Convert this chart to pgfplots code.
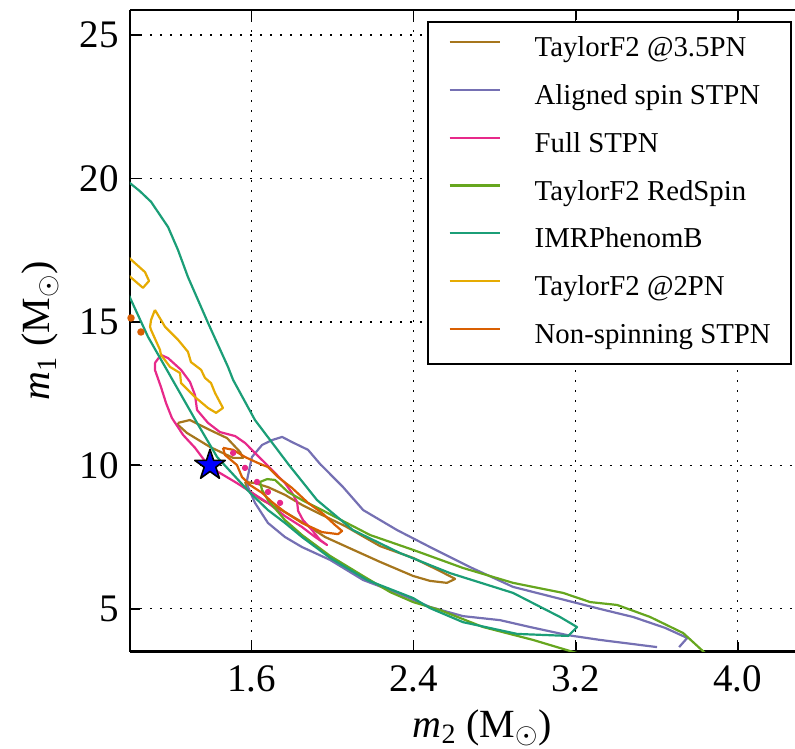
\documentclass[border=0pt]{standalone}
\usepackage{fontspec}
\setmainfont{Liberation Serif}
\usepackage{pgfplots}
\pgfplotsset{compat=1.18}
\definecolor{cBrown}{HTML}{A6761D}
\definecolor{cPurple}{HTML}{7570B3}
\definecolor{cPink}{HTML}{E7298A}
\definecolor{cGreen}{HTML}{66A61E}
\definecolor{cTeal}{HTML}{1B9E77}
\definecolor{cYellow}{HTML}{E6AB02}
\definecolor{cOrange}{HTML}{D95F02}
\pgfdeclareplotmark{fstar}{%
  \pgfpathmoveto{\pgfpointpolar{90}{\pgfplotmarksize}}%
  \pgfpathlineto{\pgfpointpolar{126}{0.382\pgfplotmarksize}}%
  \pgfpathlineto{\pgfpointpolar{162}{\pgfplotmarksize}}%
  \pgfpathlineto{\pgfpointpolar{198}{0.382\pgfplotmarksize}}%
  \pgfpathlineto{\pgfpointpolar{234}{\pgfplotmarksize}}%
  \pgfpathlineto{\pgfpointpolar{270}{0.382\pgfplotmarksize}}%
  \pgfpathlineto{\pgfpointpolar{306}{\pgfplotmarksize}}%
  \pgfpathlineto{\pgfpointpolar{342}{0.382\pgfplotmarksize}}%
  \pgfpathlineto{\pgfpointpolar{18}{\pgfplotmarksize}}%
  \pgfpathlineto{\pgfpointpolar{54}{0.382\pgfplotmarksize}}%
  \pgfpathclose
  \pgfusepathqfillstroke
}
\begin{document}
\begin{tikzpicture}
\begin{axis}[
  scale only axis, width=332.5pt, height=320.85pt,
  xmin=1.0, xmax=4.283, ymin=3.5, ymax=25.88,
  axis x line*=box, axis y line*=left,
  axis line style={line width=1.2pt, black},
  xtick={1.6,2.4,3.2,4.0}, xticklabels={1.6,2.4,3.2,4.0},
  ytick={5,10,15,20,25},
  tick align=inside, major tick length=5pt,
  tick style={line width=0.9pt, black},
  grid=major, grid style={black, line width=0.8pt, dash pattern=on 1pt off 4pt},
  /pgf/number format/assume math mode=true,
  tick label style={font=\fontsize{19.5}{22}\selectfont},
  xticklabel style={anchor=north, inner sep=0pt, yshift=-6.6pt},
  yticklabel style={anchor=east, inner sep=0pt, xshift=-5.5pt},
  label style={font=\fontsize{20}{24}\selectfont},
  xlabel={$\mathit{m}_{\mathrm{2}}$\ (M$_{\odot}$)},
  ylabel={$\mathit{m}_{\mathrm{1}}$\ (M$_{\odot}$)},
  xlabel style={at={([yshift=-43pt]axis description cs:0.53,0)}, anchor=base},
  ylabel style={at={([xshift=-40pt]axis description cs:0,0.5)}, anchor=base},
  legend style={at={(axis description cs:1,1)}, anchor=north east,
    xshift=-1.65pt, yshift=-5.35pt, draw=black, line width=1pt, fill=white,
    font=\fontsize{14.4}{17}\selectfont, inner xsep=10pt, inner ysep=7.5pt,
    row sep=10.9pt, nodes={inner sep=0pt, text height=10pt, text depth=3pt}},
  legend cell align=left,
  legend image code/.code={\draw[#1, line width=1.1pt] (0pt,3.8pt) -- (25pt,3.8pt); \path (42pt,3.8pt);},
  every axis plot/.append style={line width=1.1pt, line join=round},
]
% TaylorF2 @3.5PN
\addplot[cBrown] coordinates {(1.568,9.42) (1.617,9.38) (1.681,9.24) (1.765,8.97) (1.849,8.62) (1.948,8.27) (2.062,7.88) (2.235,7.18) (2.398,6.77) (2.531,6.31) (2.605,6.04) (2.565,5.90) (2.481,5.97) (2.398,6.14) (2.235,6.63) (2.072,7.15) (1.963,7.50) (1.849,8.02) (1.765,8.37) (1.652,8.79) (1.583,9.14) (1.568,9.42)};
\addlegendentry{TaylorF2 @3.5PN}
\addplot[cBrown, forget plot] coordinates {(1.237,11.48) (1.296,11.58) (1.395,11.23) (1.479,10.95) (1.543,10.47) (1.558,10.26) (1.509,10.26) (1.395,10.64) (1.281,11.13) (1.237,11.41) (1.237,11.48)};
% Aligned spin STPN
\addplot[cPurple] coordinates {(3.602,3.66) (3.321,3.91) (3.158,4.08) (2.975,4.36) (2.827,4.60) (2.644,4.74) (2.481,5.06) (2.319,5.55) (2.151,6.00) (1.988,6.70) (1.849,7.15) (1.765,7.50) (1.681,7.99) (1.617,8.69) (1.583,9.24) (1.578,9.49) (1.602,10.29) (1.652,10.71) (1.701,10.88) (1.751,10.99) (1.800,10.81) (1.879,10.54) (1.938,10.05) (2.052,9.24) (2.151,8.44) (2.319,7.74) (2.481,7.15) (2.679,6.45) (2.891,5.76) (3.148,5.30) (3.321,4.99) (3.484,4.71) (3.642,4.33) (3.751,3.98) (3.711,3.66)};
\addlegendentry{Aligned spin STPN}
% Full STPN
\addplot[cPink] coordinates {(1.123,13.57) (1.153,13.85) (1.188,13.74) (1.252,13.33) (1.296,12.91) (1.321,12.45) (1.331,11.93) (1.385,11.48) (1.444,11.16) (1.519,11.02) (1.568,10.78) (1.617,10.43) (1.667,10.08) (1.716,9.73) (1.765,9.38) (1.800,9.04) (1.825,8.72) (1.830,8.41) (1.854,8.09) (1.899,7.74) (1.938,7.40) (1.973,7.22) (1.914,7.50) (1.849,7.85) (1.765,8.23) (1.681,8.69) (1.602,9.04) (1.528,9.38) (1.435,9.77) (1.370,10.15) (1.321,10.61) (1.262,11.06) (1.207,11.65) (1.178,12.17) (1.153,12.73) (1.123,13.33) (1.123,13.57)};
\addlegendentry{Full STPN}
\addplot[only marks, mark=*, mark size=1pt, color=cPink, forget plot] coordinates {(1.509,10.43) (1.568,9.91) (1.627,9.42) (1.681,9.07) (1.741,8.69)};
% TaylorF2 RedSpin
\addplot[cGreen] coordinates {(3.207,3.45) (2.990,3.91) (2.743,4.36) (2.531,4.95) (2.398,5.23) (2.284,5.58) (2.151,6.14) (1.988,6.84) (1.849,7.57) (1.765,8.09) (1.681,8.79) (1.652,9.14) (1.642,9.42) (1.677,9.52) (1.716,9.49) (1.780,9.07) (1.849,8.79) (1.948,8.44) (2.062,8.02) (2.185,7.57) (2.398,7.05) (2.644,6.42) (2.891,5.90) (3.138,5.55) (3.272,5.23) (3.405,5.13) (3.568,4.71) (3.731,4.15) (3.844,3.42)};
\addlegendentry{TaylorF2 RedSpin}
% IMRPhenomB
\addplot[cTeal] coordinates {(0.99,19.90) (1.049,19.56) (1.104,19.19) (1.188,18.31) (1.237,17.51) (1.286,16.57) (1.385,14.97) (1.484,13.43) (1.509,12.98) (1.617,11.58) (1.785,10.01) (1.923,8.79) (2.101,7.74) (2.333,6.94) (2.580,6.24) (2.891,5.55) (3.123,4.71) (3.207,4.36) (3.163,4.05) (2.911,4.12) (2.644,4.53) (2.481,5.02) (2.398,5.37) (2.170,6.00) (1.988,6.77) (1.849,7.50) (1.765,7.99) (1.681,8.44) (1.593,9.04) (1.430,10.29) (1.331,11.48) (1.202,13.08) (1.089,14.48) (1.005,15.77) (0.99,16.00)};
\addlegendentry{IMRPhenomB}
% TaylorF2 @2PN
\addplot[cYellow] coordinates {(1.123,15.42) (1.153,15.07) (1.173,14.83) (1.237,14.38) (1.286,13.96) (1.301,13.60) (1.351,13.33) (1.370,13.05) (1.400,12.87) (1.420,12.52) (1.459,12.00) (1.425,11.83) (1.385,12.00) (1.321,12.38) (1.252,12.87) (1.247,13.22) (1.198,13.43) (1.153,13.85) (1.148,14.03) (1.104,14.72) (1.099,14.83) (1.104,15.07) (1.123,15.42)};
\addlegendentry{TaylorF2 @2PN}
\addplot[cYellow, forget plot] coordinates {(0.990,17.27) (1.074,16.74) (1.094,16.43) (1.064,16.19) (0.990,16.64)};
% Non-spinning STPN
\addplot[cOrange] coordinates {(1.459,10.61) (1.509,10.54) (1.568,10.29) (1.632,10.08) (1.681,9.94) (1.731,9.59) (1.800,9.21) (1.879,8.69) (1.948,8.34) (2.012,7.92) (2.047,7.71) (2.027,7.60) (1.948,7.67) (1.849,7.99) (1.765,8.37) (1.701,8.72) (1.652,9.04) (1.593,9.31) (1.553,9.59) (1.528,10.01) (1.469,10.36) (1.459,10.61)};
\addlegendentry{Non-spinning STPN}
\addplot[only marks, mark=*, mark size=1.3pt, color=cOrange, forget plot] coordinates {(1.005,15.14) (1.054,14.65)};
% injected point
\addplot[only marks, mark=fstar, mark size=8pt, mark options={fill=blue, draw=black, line width=0.8pt}, forget plot] coordinates {(1.395,10.0)};
\coordinate (bbsw) at (rel axis cs:0,0);
\coordinate (bbne) at (rel axis cs:1,1);
\end{axis}
\pgfresetboundingbox
\path[use as bounding box] ([xshift=-65pt,yshift=-48.65pt]bbsw) rectangle ([yshift=5pt]bbne);
\end{tikzpicture}
\end{document}
